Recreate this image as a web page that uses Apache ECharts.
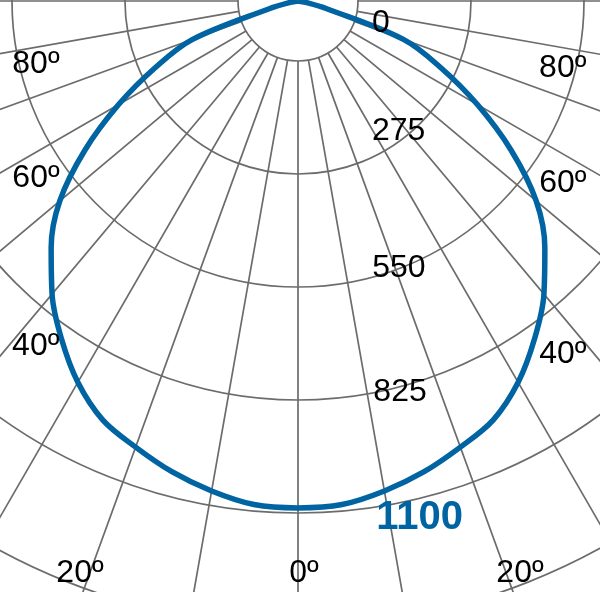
<!DOCTYPE html>
<html lang="es">
<head>
<meta charset="utf-8">
<title>Curva fotométrica</title>
<script src="https://cdn.jsdelivr.net/npm/echarts@6/dist/echarts.min.js"></script>
<style>
    html, body, #main {
        width: 100%;
        height: 100%;
        margin: 0;
        background: #fff;
    }
</style>
</head>
<body>
<div id="main"></div>
<script>
    // gamma angle (0 = straight down) and intensity, same both sides
    const gammaAngles = [0, 5, 10, 15, 20, 25, 30, 35, 40, 45, 50, 55, 60, 65, 70, 75, 80, 85, 90];
    const intensity = [1089, 1086, 1069, 1047, 1020, 993, 946, 886, 822, 750, 668, 559, 445, 338, 241, 64, 17, 0, 0];

    // tick labels
    const radialTicks = [0, 275, 550, 825, 1100];
    const angleTickLabels = ['80º', '60º', '40º', '20º', '0º', '20º', '40º', '60º', '80º'];

    // where the labels sit, as [radius, angle] on the curve's polar system
    const radialLabelAt = [[166, -73.1], [322, -29.6], [596, -15.5], [856, -10.9], [1123, -8.6]];
    const angleLabelAt = [[579, 76.5], [679, 56.0], [932, 37.2], [1316, 20.85], [1230, -0.6],
                          [1319, -21.2], [949, -36.85], [691, -55.45], [587, -75.7]];

    const blue = '#0063a2';
    const gridColor = '#6c6c6c';
    const font = 'Liberation Sans, Arial, sans-serif';

    const curve = [];
    for (let i = gammaAngles.length - 1; i >= 0; i--) {
        curve.push([intensity[i], -gammaAngles[i]]);
    }
    for (let i = 1; i < gammaAngles.length; i++) {
        curve.push([intensity[i], gammaAngles[i]]);
    }

    const radialLabels = radialTicks.map(function (v, i) {
        const item = { name: String(v), value: radialLabelAt[i] };
        if (i === radialTicks.length - 1) {
            item.label = { color: blue, fontWeight: 'bold', fontSize: 40 };
        }
        return item;
    });

    const angleLabels = angleTickLabels.map(function (t, i) {
        return { name: t, value: angleLabelAt[i] };
    });

    const labelStyle = {
        show: true, position: 'inside', formatter: '{b}', verticalAlign: 'middle',
        color: '#000', fontSize: 32, fontFamily: font,
        textBorderWidth: 0, textBorderColor: 'transparent', opacity: 1
    };

    const chart = echarts.init(document.getElementById('main'));

    const option = {
        animation: false,
        polar: [
            { center: [298, 1], radius: [60, 738] },
            { center: [298, 1], radius: [0, 768] }
        ],
        angleAxis: [
            {
                polarIndex: 0, type: 'value', min: -180, max: 180, interval: 10,
                startAngle: 90, clockwise: true,
                axisLine: { show: false }, axisTick: { show: false }, axisLabel: { show: false },
                splitLine: { show: true, lineStyle: { color: gridColor, width: 1.7 } }
            },
            { polarIndex: 1, type: 'value', min: -180, max: 180, startAngle: 90, clockwise: true, show: false }
        ],
        radiusAxis: [
            {
                polarIndex: 0, type: 'value', min: 0, max: 1650, interval: 275,
                axisLine: { show: false }, axisTick: { show: false }, axisLabel: { show: false },
                splitLine: { show: true, lineStyle: { color: gridColor, width: 1.7 } }
            },
            { polarIndex: 1, type: 'value', min: 0, max: 1650, show: false }
        ],
        series: [
            {
                type: 'line',
                coordinateSystem: 'polar',
                polarIndex: 1,
                data: curve,
                symbol: 'none',
                smooth: 0.35,
                silent: true,
                z: 3,
                lineStyle: { color: blue, width: 5.5 }
            },
            {
                type: 'scatter',
                coordinateSystem: 'polar',
                polarIndex: 1,
                data: radialLabels,
                symbolSize: 0,
                silent: true,
                z: 4,
                label: Object.assign({}, labelStyle, { align: 'left' })
            },
            {
                type: 'scatter',
                coordinateSystem: 'polar',
                polarIndex: 1,
                data: angleLabels,
                symbolSize: 0,
                silent: true,
                z: 4,
                label: Object.assign({}, labelStyle, { align: 'center' })
            }
        ]
    };

    chart.setOption(option);

    window.onresize = function () {
        chart.resize();
    };
</script>
</body>
</html>
